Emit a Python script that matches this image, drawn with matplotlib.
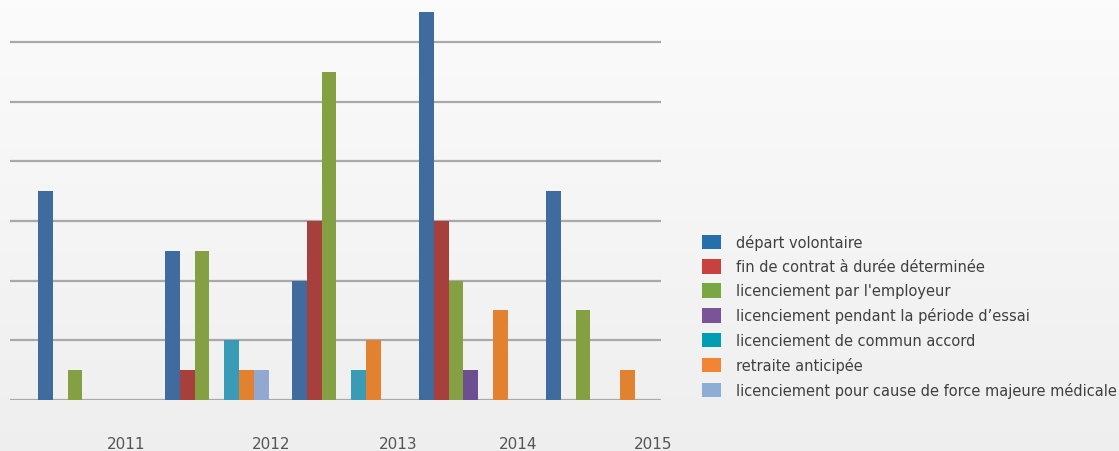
import numpy as np
import matplotlib
matplotlib.use('Agg')
import matplotlib.pyplot as plt
from matplotlib.patches import Patch

# data
years = ['2011', '2012', '2013', '2014', '2015']
depart_volontaire = [7, 5, 4, 13, 7]
fin_cdd = [0, 1, 6, 6, 0]
licenciement_employeur = [1, 5, 11, 4, 3]
licenciement_essai = [0, 0, 0, 1, 0]
licenciement_commun = [0, 2, 1, 0, 0]
retraite_anticipee = [0, 1, 2, 3, 1]
licenciement_force_majeure = [0, 1, 0, 0, 0]

series = [depart_volontaire, fin_cdd, licenciement_employeur, licenciement_essai,
          licenciement_commun, retraite_anticipee, licenciement_force_majeure]
labels = ["départ volontaire",
          "fin de contrat à durée déterminée",
          "licenciement par l'employeur",
          "licenciement pendant la période d\u2019essai",
          "licenciement de commun accord",
          "retraite anticipée",
          "licenciement pour cause de force majeure médicale"]
bar_colors = ['#3f6b9f', '#a7403d', '#84a042', '#6c4f90', '#3a9bb6', '#e2812f', '#93a8d0']
legend_colors = ['#2470ac', '#c8413f', '#79a843', '#7a5496', '#009db3', '#f28533', '#8eadd6']

W, H = 1119, 452
fig = plt.figure(figsize=(W / 100, H / 100), dpi=100)

# soft vertical gradient background
bg = fig.add_axes([0, 0, 1, 1])
grad = np.linspace(0.985, 0.935, 256).reshape(-1, 1)
bg.imshow(np.dstack([grad, grad, grad]), aspect='auto', extent=[0, 1, 0, 1])
bg.axis('off')

ax = fig.add_axes([10 / W, (H - 401) / H, (661 - 10) / W, 401 / H])
ax.patch.set_alpha(0)

w = 14.8 / 127
x = np.arange(len(years))
for j, vals in enumerate(series):
    ax.bar(x + j * w + w / 2, vals, width=w, color=bar_colors[j], zorder=3, linewidth=0)

ax.set_xlim((10 - 38) / 127, (661 - 38) / 127)
ax.set_ylim(0, 401 / 59.7 * 2)
ax.set_yticks(range(0, 14, 2))
ax.yaxis.grid(True, color='#a9a9a9', linewidth=1.6, zorder=0)
ax.tick_params(axis='y', left=False, labelleft=False)
for s in ax.spines.values():
    s.set_visible(False)

# year labels sit off-centre in the original
tick_px = [126, 271, 398, 518, 653]
ax.set_xticks([(p - 38) / 127 for p in tick_px])
ax.set_xticklabels(years, fontsize=11, color='#555555', family='DejaVu Sans')
ax.tick_params(axis='x', length=0, pad=26)

handles = [Patch(facecolor=c, edgecolor='none') for c in legend_colors]
leg = fig.legend(handles, labels, loc='upper left', bbox_to_anchor=(702 / W, 1 - 235 / H),
                 frameon=False, fontsize=10.5, handlelength=1.3, handleheight=1.15,
                 handletextpad=1.0, labelspacing=0.62, borderaxespad=0, borderpad=0)
for t in leg.get_texts():
    t.set_color('#404040')

fig.savefig('out.png', dpi=100)
